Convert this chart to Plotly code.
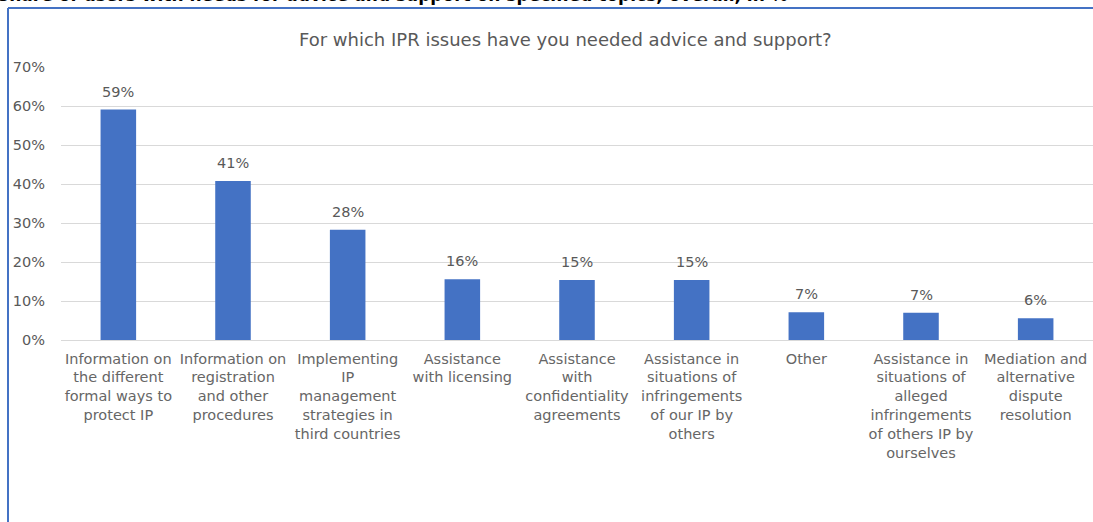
import plotly.graph_objects as go

categories = [
    "Information on<br>the different<br>formal ways to<br>protect IP",
    "Information on<br>registration<br>and other<br>procedures",
    "Implementing<br>IP<br>management<br>strategies in<br>third countries",
    "Assistance<br>with licensing",
    "Assistance<br>with<br>confidentiality<br>agreements",
    "Assistance in<br>situations of<br>infringements<br>of our IP by<br>others",
    "Other",
    "Assistance in<br>situations of<br>alleged<br>infringements<br>of others IP by<br>ourselves",
    "Mediation and<br>alternative<br>dispute<br>resolution",
]
values = [59.1, 40.8, 28.3, 15.6, 15.4, 15.4, 7.1, 7.0, 5.6]
y_ticks = [0, 10, 20, 30, 40, 50, 60, 70]

W, H = 1093, 522
L, R, T, B = 61, 0, 67, 182
pw, ph = W - L - R, H - T - B

def px(x):
    return (x - L) / pw

def py(y):
    return (H - B - y) / ph

FONT = "DejaVu Sans"
GRAY = "#595959"
BLUE = "#4472C4"

fig = go.Figure(go.Bar(
    x=categories, y=values,
    marker=dict(color=BLUE, line=dict(width=0)),
    width=0.31,
))

label_annotations = [
    dict(x=c, y=v, xref="x", yref="y", text=f"{v:.0f}%",
         showarrow=False, xanchor="center", yanchor="bottom", yshift=8,
         font=dict(family=FONT, size=14.5, color=GRAY))
    for c, v in zip(categories, values)
]

fig.update_layout(
    width=W, height=H,
    margin=dict(l=L, r=R, t=T, b=B, autoexpand=False),
    plot_bgcolor="white", paper_bgcolor="white",
    showlegend=False,
    font=dict(family=FONT, size=14.5, color=GRAY),
    xaxis=dict(
        tickfont=dict(family=FONT, size=14.5, color="#666666"),
        showgrid=False, showline=False, ticks="",
        tickangle=0, automargin=False, ticklabelstandoff=8,
    ),
    yaxis=dict(
        range=[0, 70], tickvals=y_ticks,
        ticktext=[f"{v}%" for v in y_ticks],
        tickfont=dict(family=FONT, size=14.5, color=GRAY),
        showgrid=True, gridcolor="#D9D9D9", gridwidth=1,
        zeroline=True, zerolinecolor="#D9D9D9", zerolinewidth=1,
        showline=False, ticks="", ticklabelstandoff=15, automargin=False,
    ),
    shapes=[
        dict(type="line", xref="paper", yref="paper", layer="above",
             x0=px(8), x1=px(8), y0=py(8), y1=py(H + 5),
             line=dict(color=BLUE, width=2)),
        dict(type="line", xref="paper", yref="paper", layer="above",
             x0=px(8), x1=px(W + 5), y0=py(8), y1=py(8),
             line=dict(color=BLUE, width=2)),
    ],
    annotations=[
        dict(text="<b>Share of users with needs for advice and support on specified topics, overall, in %</b>",
             xref="paper", yref="paper", x=px(-5), y=py(-5),
             xanchor="left", yanchor="middle", showarrow=False,
             font=dict(family=FONT, size=17, color="#000000")),
        dict(text="For which IPR issues have you needed advice and support?",
             xref="paper", yref="paper", x=px(565), y=py(40),
             xanchor="center", yanchor="middle", showarrow=False,
             font=dict(family=FONT, size=18, color=GRAY)),
    ] + label_annotations,
)

fig.write_html(
    "out.html",
    config={"displayModeBar": False},
    post_script="document.body.style.margin='0';document.body.style.overflow='hidden';",
)
